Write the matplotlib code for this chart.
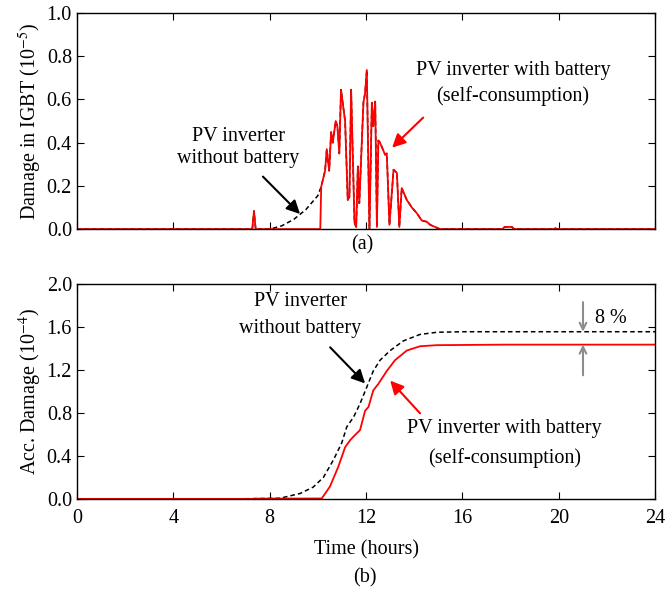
import numpy as np
import matplotlib
matplotlib.use("Agg")
import matplotlib.pyplot as plt

plt.rcParams["font.family"] = ["Liberation Serif", "DejaVu Serif"]
plt.rcParams["mathtext.fontset"] = "stix"

# (a) damage per sample, 1e-5
t_bat = [0, 7.28, 7.35, 7.42, 10.10, 10.14, 10.30, 10.37, 10.47, 10.55, 10.62, 10.74, 10.81,
         10.89, 10.96, 11.13, 11.24, 11.31, 11.38, 11.52, 11.59, 11.66, 11.72, 11.89, 11.96,
         12.03, 12.14, 12.24, 12.30, 12.38, 12.45, 12.51, 12.58, 12.79, 12.86, 12.97, 13.14,
         13.28, 13.38, 13.48, 13.69, 13.90, 14.11, 14.31, 14.52, 14.66, 14.94, 15.07,
         17.65, 17.75, 18.05, 18.15, 19.8, 19.85, 19.9, 24]
d_bat = [0, 0, 0.084, 0, 0, 0.197, 0.27, 0.37, 0.27, 0.45, 0.40, 0.50, 0.476,
         0.35, 0.645, 0.50, 0.135, 0.15, 0.645, 0.03, 0.01, 0.29, 0.12, 0.585, 0.63,
         0.736, 0.0, 0.585, 0.476, 0.59, 0.01, 0.41, 0.40, 0.344, 0.35, 0.02, 0.275,
         0.26, 0.01, 0.19, 0.135, 0.10, 0.073, 0.04, 0.034, 0.02, 0.006, 0.0,
         0, 0.01, 0.01, 0, 0, 0.005, 0, 0]
t_nobat_ramp = [0, 7.28, 7.35, 7.42, 8.0, 8.5, 9.0, 9.5, 10.0, 10.14]
d_nobat_ramp = [0, 0, 0.084, 0, 0, 0.015, 0.045, 0.09, 0.155, 0.197]

# (b) accumulated damage, 1e-4
t_acc_nobat = [0, 6.5, 7.5, 8.43, 9.26, 9.81, 10.23, 10.64, 10.99, 11.2, 11.48, 11.75, 12.03,
               12.3, 12.58, 13.0, 13.55, 14.24, 14.94, 16, 24]
acc_nobat = [0, 0, 0.003, 0.006, 0.05, 0.11, 0.20, 0.36, 0.52, 0.67, 0.76, 0.886, 1.04,
             1.19, 1.29, 1.38, 1.47, 1.53, 1.55, 1.555, 1.555]
t_acc_bat = [0, 7.3, 7.4, 10.16, 10.5, 10.85, 11.13, 11.34, 11.48, 11.75, 11.96, 12.1, 12.3,
             12.51, 12.86, 13.2, 13.69, 14.24, 14.94, 17.8, 24]
acc_bat = [0, 0, 0.002, 0.004, 0.114, 0.30, 0.48, 0.546, 0.58, 0.64, 0.82, 0.855, 1.01,
           1.07, 1.19, 1.29, 1.38, 1.42, 1.43, 1.435, 1.435]

t_bat = np.array(t_bat)
d_bat = np.array(d_bat)
keep = t_bat > 10.2
t_nobat = np.concatenate([t_nobat_ramp, t_bat[keep]])
d_nobat = np.concatenate([d_nobat_ramp, d_bat[keep]])

fs = 14.5
fig = plt.figure(figsize=(6.68, 5.89), dpi=100)
ax1 = fig.add_axes([0.115, 0.611, 0.866, 0.367])
ax2 = fig.add_axes([0.115, 0.153, 0.866, 0.365])

dash = (0, (3, 2))
ax1.plot(t_nobat, d_nobat, color="black", lw=1.1, linestyle=dash)
ax1.plot(t_bat, d_bat, color="red", lw=1.3)
ax2.plot(t_acc_nobat, acc_nobat, color="black", lw=1.1, linestyle=dash)
ax2.plot(t_acc_bat, acc_bat, color="red", lw=1.3)

for ax in (ax1, ax2):
    ax.set_xlim(0, 24)
    ax.set_xticks(range(0, 25, 4))
    ax.tick_params(direction="in", top=True, right=True, labelsize=fs, length=5)
    ax.tick_params(axis="x", pad=7)
    for s in ax.spines.values():
        s.set_linewidth(1.0)

ax1.set_ylim(0, 1.0)
ax1.set_yticks(np.arange(0, 1.01, 0.2))
ax1.set_yticklabels(["0.0", "0.2", "0.4", "0.6", "0.8", "1.0"])
ax1.set_xticklabels([])
ax1.set_ylabel("Damage in IGBT (10$^{-5}$)", fontsize=fs, labelpad=2)

ax2.set_ylim(0, 2.0)
ax2.set_yticks(np.arange(0, 2.01, 0.4))
ax2.set_yticklabels(["0.0", "0.4", "0.8", "1.2", "1.6", "2.0"])
ax2.set_ylabel("Acc. Damage (10$^{-4}$)", fontsize=fs, labelpad=2)
ax2.set_xlabel("Time (hours)", fontsize=fs, labelpad=9)


def arrow(ax, tail, head, color):
    ax.annotate("", xy=head, xytext=tail,
                arrowprops=dict(arrowstyle="-|>", color=color, lw=1.5, mutation_scale=20,
                                shrinkA=0, shrinkB=0))


# annotations (a)
ax1.text(6.69, 0.377, "PV inverter\nwithout battery", ha="center", va="center",
         fontsize=fs, linespacing=1.25)
arrow(ax1, (7.72, 0.243), (9.26, 0.07), "black")
ax1.text(18.1, 0.674, "PV inverter with battery\n(self-consumption)", ha="center", va="center",
         fontsize=fs, linespacing=1.45)
arrow(ax1, (14.37, 0.516), (13.08, 0.377), "red")

# annotations (b)
ax2.text(9.26, 1.713, "PV inverter\nwithout battery", ha="center", va="center",
         fontsize=fs, linespacing=1.55)
arrow(ax2, (10.51, 1.41), (11.96, 1.074), "black")
ax2.text(17.73, 0.518, "PV inverter with battery\n(self-consumption)", ha="center", va="center",
         fontsize=fs, linespacing=1.7)
arrow(ax2, (14.24, 0.796), (13.0, 1.10), "red")

gray = "#8c8c8c"
ax2.annotate("", xy=(21.0, 1.555), xytext=(21.0, 1.83),
             arrowprops=dict(arrowstyle="->", color=gray, lw=1.5, mutation_scale=12,
                             shrinkA=0, shrinkB=0))
ax2.annotate("", xy=(21.0, 1.435), xytext=(21.0, 1.15),
             arrowprops=dict(arrowstyle="->", color=gray, lw=1.5, mutation_scale=12,
                             shrinkA=0, shrinkB=0))
ax2.text(21.5, 1.68, "8 %", fontsize=fs, ha="left", va="center")

fig.text(0.543, 0.585, "(a)", fontsize=fs, ha="center", va="center")
fig.text(0.546, 0.019, "(b)", fontsize=fs, ha="center", va="center")

fig.savefig("out.png", dpi=100)
